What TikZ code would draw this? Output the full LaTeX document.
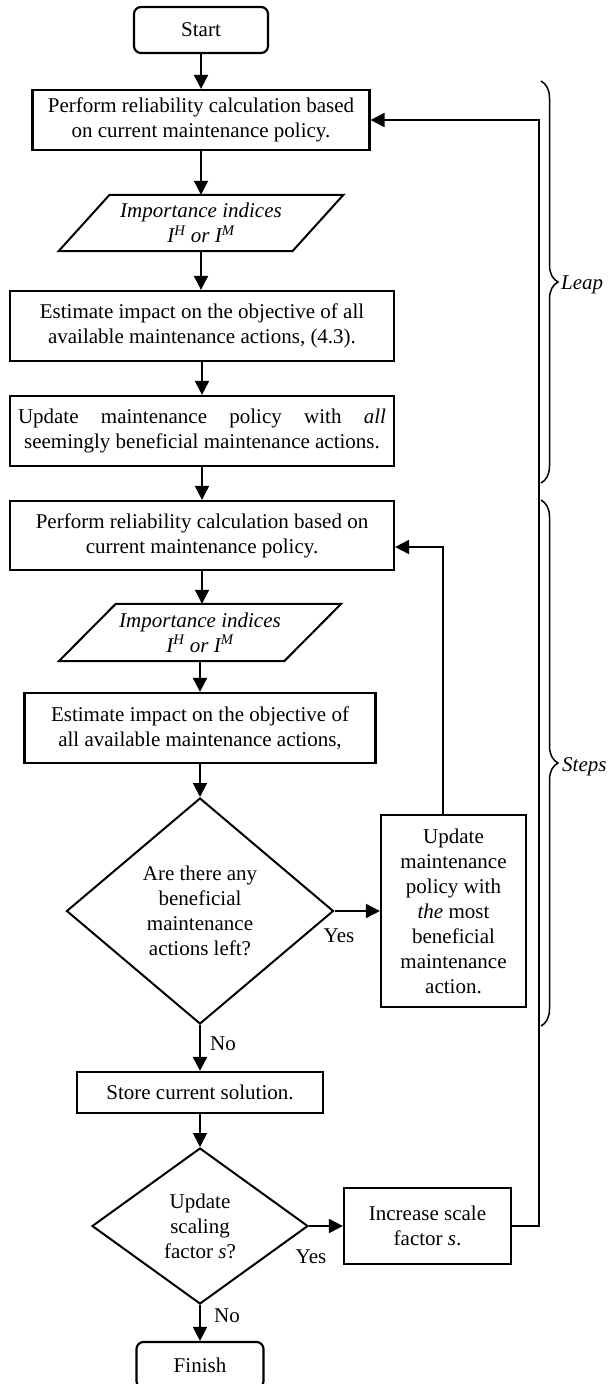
\documentclass[tikz,border=0pt]{standalone}
\usepackage{fontspec}
\setmainfont{Liberation Serif}
\usetikzlibrary{shapes.geometric,arrows.meta,decorations.pathreplacing,calc}
\begin{document}
\begin{tikzpicture}[x=1pt,y=-1pt,
  font=\fontsize{21}{25}\selectfont,
  box/.style={draw,rectangle,line width=2.2pt,inner sep=0pt,align=center},
  term/.style={draw,rectangle,rounded corners=7pt,line width=2.2pt,inner sep=0pt,align=center},
  dec/.style={draw,diamond,line width=2pt,inner sep=0pt,align=center},
  io/.style={rectangle,inner sep=0pt,align=center,font=\fontsize{21}{25}\selectfont\itshape},
  para/.style={line width=2pt},
  arr/.style={line width=1.9pt,-{Triangle[length=14pt,width=14pt]}},
  lbl/.style={inner sep=0pt},
  bracedeco/.style={decorate,decoration={brace,amplitude=17pt},line width=1.5pt}
]
\useasboundingbox (0,0) rectangle (611,1384);
\clip (0,0) rectangle (611,1384);

\node[term,minimum width=134,minimum height=46] (start) at (201,30) {Start};
\node[box,minimum width=337,minimum height=60] (b1) at (201,120) {Perform reliability calculation based\\on current maintenance policy.};
\node[io,minimum width=233.5,minimum height=56] (p1) at (201,223) {Importance indices\\I\textsuperscript{H} or I\textsuperscript{M}};
\draw[para] ($(p1.north west)+(25.5,0)$) -- ($(p1.north east)+(25.5,0)$) -- ($(p1.south east)+(-25.5,0)$) -- ($(p1.south west)+(-25.5,0)$) -- cycle;
\node[box,minimum width=384,minimum height=70] (b2) at (202,326) {Estimate impact on the objective of all\\available maintenance actions, (4.3).};
\node[box,minimum width=384,minimum height=70] (b3) at (202,431) {\makebox[368pt][s]{Update maintenance policy with \textit{all}}\\seemingly beneficial maintenance actions.};
\node[box,minimum width=384,minimum height=69] (b4) at (202,535.5) {Perform reliability calculation based on\\current maintenance policy.};
\node[io,minimum width=225,minimum height=57] (p2) at (200,632.5) {Importance indices\\I\textsuperscript{H} or I\textsuperscript{M}};
\draw[para] ($(p2.north west)+(28.5,0)$) -- ($(p2.north east)+(28.5,0)$) -- ($(p2.south east)+(-28.5,0)$) -- ($(p2.south west)+(-28.5,0)$) -- cycle;
\node[box,minimum width=351,minimum height=70] (b5) at (200,728) {Estimate impact on the objective of\\all available maintenance actions,};
\node[dec,minimum width=267,minimum height=226] (d1) at (200,911) {Are there any\\beneficial\\maintenance\\actions left?};
\node[box,minimum width=145,minimum height=192] (b6) at (453.5,911) {Update\\maintenance\\policy with\\\textit{the} most\\beneficial\\maintenance\\action.};
\node[box,minimum width=246,minimum height=41] (st) at (200,1092.5) {Store current solution.};
\node[dec,minimum width=216,minimum height=156] (d2) at (200,1226) {Update\\scaling\\factor \textit{s}?};
\node[box,minimum width=167,minimum height=76] (inc) at (427.5,1226) {Increase scale\\factor \textit{s}.};
\node[term,minimum width=127,minimum height=46] (fin) at (200,1365) {Finish};

\draw[arr] (start.south) -- (start.south |- b1.north);
\draw[arr] (b1.south) -- (b1.south |- p1.north);
\draw[arr] (p1.south) -- (p1.south |- b2.north);
\draw[arr] (b2.south) -- (b2.south |- b3.north);
\draw[arr] (b3.south) -- (b3.south |- b4.north);
\draw[arr] (b4.south) -- (b4.south |- p2.north);
\draw[arr] (p2.south) -- (p2.south |- b5.north);
\draw[arr] (b5.south) -- (b5.south |- d1.north);
\draw[arr] (d1.east) -- (b6.west |- d1.east);
\node[lbl] (yes1) at (339,936) {Yes};
\coordinate (fb1) at (443,547);
\draw[arr] (b6.north -| fb1) -- (fb1) -- (fb1 -| b4.east);
\draw[arr] (d1.south) -- (d1.south |- st.north);
\node[lbl] (no1) at (223,1044) {No};
\draw[arr] (st.south) -- (st.south |- d2.north);
\draw[arr] (d2.east) -- (inc.west);
\node[lbl] (yes2) at (311,1257) {Yes};
\coordinate (fb2) at (539,120);
\draw[arr] (inc.east) -- (inc.east -| fb2) -- (fb2) -- (b1.east);
\draw[arr] (d2.south) -- (d2.south |- fin.north);
\node[lbl] (no2) at (227,1316) {No};

\coordinate (lt) at (541,81);
\coordinate (lb) at (541,483);
\draw[bracedeco] (lt) -- (lb);
\node[lbl,anchor=west,font=\fontsize{21}{25}\selectfont\itshape] (leap) at (561,285) {Leap};
\coordinate (st1) at (541,500);
\coordinate (st2) at (541,1026);
\draw[bracedeco] (st1) -- (st2);
\node[lbl,anchor=west,font=\fontsize{21}{25}\selectfont\itshape] (steps) at (562,767) {Steps};
\end{tikzpicture}
\end{document}
